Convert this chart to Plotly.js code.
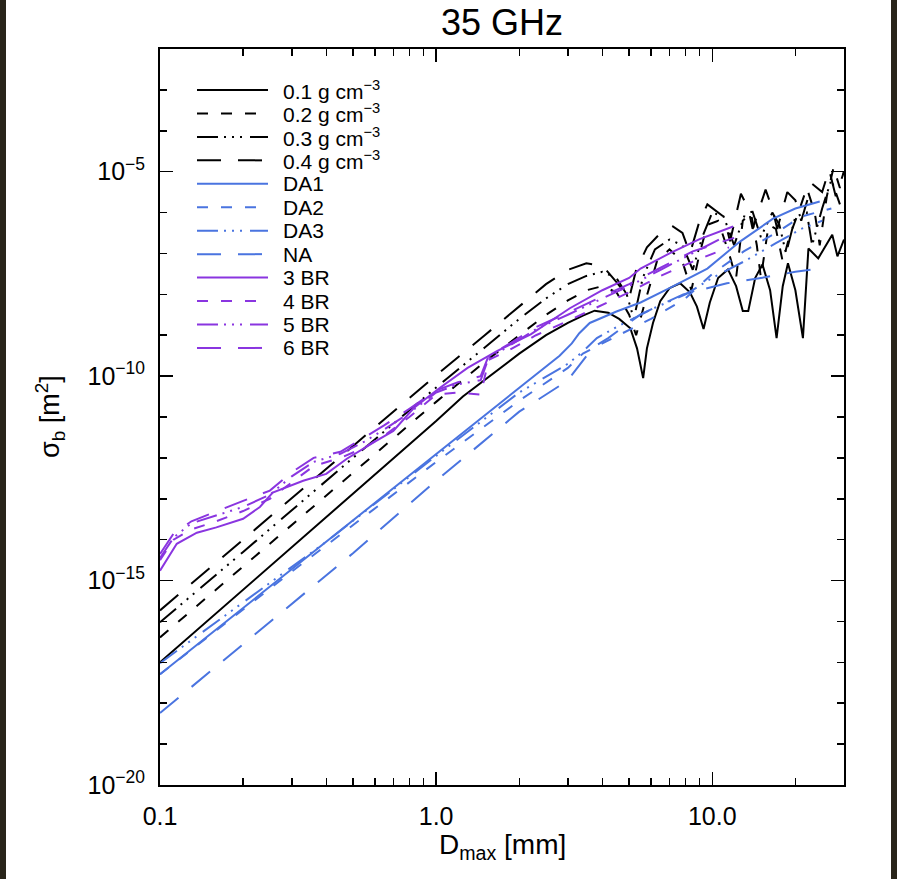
<!DOCTYPE html>
<html>
<head>
<meta charset="utf-8">
<script src="https://cdn.plot.ly/plotly-3.0.1.min.js"></script>
<style>
html,body{margin:0;padding:0;background:#29251a;width:897px;height:879px;overflow:hidden;}
#plot{position:absolute;left:6px;top:0;width:885px;height:879px;background:#fff;}
</style>
</head>
<body>
<div id="plot"></div>
<script>
// Diameters (mm) and log10 of backscatter cross-section (m^2)
const d01 = [0.1, 0.2, 0.5, 1.0, 1.25, 1.5, 1.75, 2.0, 2.5, 3.0, 3.4, 3.75, 4.2, 4.6, 5.05, 5.34, 5.62, 5.8, 6.1, 6.48, 7.0, 7.65, 8.3, 8.8, 9.3, 9.8, 10.5, 11.4, 12.2, 12.9, 13.5, 14.3, 15.2, 16.2, 17.1, 18.0, 18.8, 20.0, 21.3, 22.3, 24.2, 27.2, 28.4, 30.0];
const s01 = [-17.0, -15.23, -12.88, -11.1, -10.5, -10.1, -9.75, -9.45, -9.0, -8.7, -8.52, -8.4, -8.45, -8.6, -8.83, -9.32, -10.05, -9.32, -8.7, -8.17, -7.85, -7.73, -7.95, -8.3, -8.85, -8.2, -7.6, -7.39, -7.8, -8.41, -8.41, -7.6, -7.27, -7.9, -9.07, -7.8, -7.24, -7.9, -9.07, -6.88, -7.12, -6.54, -7.07, -6.66];

const d02 = [0.1, 0.2, 0.5, 1.0, 1.5, 2.0, 2.5, 3.0, 3.5, 4.0, 4.5, 5.0, 5.3, 5.7, 6.3, 7.0, 7.8, 8.4, 9.0, 9.6, 10.5, 11.5, 12.2, 12.9, 13.8, 14.5, 15.0, 16.0, 17.0, 18.0, 19.0, 20.5, 22.0, 23.5, 24.5, 26.0, 27.5, 29.0, 30.0];
const s02 = [-16.39, -14.65, -12.37, -10.63, -9.65, -9.0, -8.5, -8.15, -7.9, -7.8, -7.95, -8.5, -9.0, -8.2, -7.2, -6.9, -7.2, -7.9, -7.0, -6.3, -6.2, -7.0, -7.6, -6.2, -6.0, -6.8, -7.6, -6.3, -6.4, -7.2, -6.6, -6.0, -5.4, -6.0, -6.8, -5.6, -4.9, -5.4, -5.0];

const d03 = [0.1, 0.2, 0.5, 1.0, 1.5, 2.0, 2.5, 3.0, 3.5, 4.0, 4.5, 4.9, 5.2, 5.6, 6.2, 7.0, 7.8, 8.5, 9.2, 10.0, 11.0, 12.0, 13.2, 14.0, 15.0, 16.5, 17.5, 18.5, 20.0, 22.0, 23.0, 25.0, 27.0, 29.0];
const s03 = [-16.02, -14.3, -12.0, -10.28, -9.3, -8.6, -8.1, -7.75, -7.55, -7.45, -7.6, -8.0, -8.6, -7.6, -6.9, -6.66, -6.8, -7.4, -6.6, -6.0, -6.1, -6.8, -6.0, -5.98, -6.6, -6.0, -6.3, -7.0, -6.1, -6.0, -6.8, -5.9, -5.2, -5.8];

const d04 = [0.1, 0.2, 0.5, 1.0, 1.5, 2.0, 2.5, 3.0, 3.5, 4.0, 4.5, 5.0, 5.3, 5.8, 6.5, 7.2, 7.8, 8.3, 9.0, 9.6, 11.0, 11.6, 12.7, 13.5, 14.0, 15.6, 16.5, 17.2, 18.7, 20.0, 21.0, 23.0, 25.0, 26.5, 28.0, 30.0];
const s04 = [-15.73, -14.0, -11.72, -9.98, -9.0, -8.3, -7.75, -7.4, -7.24, -7.3, -7.7, -8.1, -7.4, -6.85, -6.5, -6.34, -6.5, -7.0, -6.2, -5.8, -6.1, -6.7, -5.54, -5.9, -6.4, -5.44, -5.9, -6.4, -5.5, -5.7, -6.2, -5.3, -5.5, -4.95, -5.6, -5.0];

const dDA1 = [0.1, 0.3, 1.0, 2.0, 2.8, 3.1, 3.3, 3.6, 4.5, 5.5, 7.0, 9.6, 12.6, 16.6, 20.0, 24.5];
const sDA1 = [-17.29, -14.72, -11.9, -10.28, -9.5, -9.2, -8.95, -8.7, -8.42, -8.2, -7.85, -7.37, -6.71, -6.15, -5.9, -5.73];

const dDA2 = [0.1, 0.3, 1.0, 2.0, 3.0, 3.4, 4.0, 6.0, 8.0, 10.0, 13.0, 17.0, 21.0, 27.0];
const sDA2 = [-17.29, -14.78, -12.1, -10.6, -9.8, -9.45, -9.2, -8.6, -8.1, -7.5, -6.95, -6.5, -6.1, -5.9];

const dDA3 = [0.1, 0.4, 1.0, 2.0, 3.0, 3.4, 3.82, 4.5, 6.0, 8.0, 10.0, 13.0, 17.0, 21.0, 25.0];
const sDA3 = [-17.02, -14.05, -11.95, -10.4, -9.7, -9.4, -9.07, -8.8, -8.37, -8.0, -7.6, -7.2, -6.75, -6.4, -6.2];

const dNA = [0.1, 0.5, 1.0, 2.0, 2.98, 3.34, 3.7, 4.2, 5.5, 7.85, 11.3, 15.0, 20.0, 24.5];
const sNA = [-18.24, -14.33, -12.56, -10.87, -10.12, -9.7, -9.3, -9.07, -8.49, -8.0, -7.73, -7.6, -7.45, -7.37];

const d3BR = [0.1, 0.115, 0.136, 0.16, 0.2, 0.23, 0.256, 0.33, 0.4, 0.475, 0.6, 0.7, 0.83, 1.03, 1.3, 1.66, 2.2, 3.05, 4.0, 5.0, 5.5, 7.0, 9.0, 11.9];
const s3BR = [-14.76, -14.1, -13.83, -13.7, -13.49, -13.2, -12.85, -12.56, -12.39, -12.02, -11.6, -11.34, -10.78, -10.29, -9.8, -9.39, -8.98, -8.34, -7.9, -7.6, -7.37, -7.0, -6.65, -6.34];

const d4BR = [0.1, 0.112, 0.13, 0.16, 0.2, 0.25, 0.3, 0.36, 0.45, 0.55, 0.65, 0.8, 1.0, 1.2, 1.45, 1.55, 1.8, 2.3, 3.0, 4.0, 5.0, 6.5, 8.5, 11.5];
const s4BR = [-14.5, -14.0, -13.75, -13.55, -13.3, -13.0, -12.6, -12.2, -12.0, -11.75, -11.45, -11.0, -10.45, -10.4, -10.45, -9.6, -9.4, -9.0, -8.65, -8.25, -7.95, -7.55, -7.2, -6.85];

const d5BR = [0.1, 0.112, 0.13, 0.16, 0.2, 0.25, 0.3, 0.36, 0.45, 0.55, 0.65, 0.8, 1.0, 1.2, 1.45, 1.55, 1.8, 2.3, 3.0, 4.0, 5.0, 6.5, 8.5, 11.0];
const s5BR = [-14.45, -13.95, -13.6, -13.4, -13.2, -12.9, -12.45, -12.1, -11.9, -11.6, -11.3, -10.9, -10.4, -10.2, -10.1, -9.55, -9.3, -8.85, -8.5, -8.1, -7.8, -7.4, -7.0, -6.6];

const d6BR = [0.1, 0.112, 0.13, 0.16, 0.2, 0.25, 0.3, 0.36, 0.45, 0.55, 0.65, 0.8, 1.0, 1.2, 1.45, 1.55, 1.8, 2.3, 3.0, 4.0, 5.0, 6.5, 8.5, 12.0];
const s6BR = [-14.35, -13.85, -13.55, -13.3, -13.05, -12.8, -12.35, -12.0, -11.85, -11.5, -11.2, -10.8, -10.35, -10.15, -10.0, -9.5, -9.25, -8.8, -8.45, -8.05, -7.75, -7.35, -6.95, -6.62];

const seriesNames = ['0.1 g cm<sup>−3</sup>', '0.2 g cm<sup>−3</sup>', '0.3 g cm<sup>−3</sup>', '0.4 g cm<sup>−3</sup>',
  'DA1', 'DA2', 'DA3', 'NA', '3 BR', '4 BR', '5 BR', '6 BR'];
const xTickVals = [0.1, 1, 10];
const xTickText = ['0.1', '1.0', '10.0'];
const yTickVals = [1e-20, 1e-15, 1e-10, 1e-5];
const yTickText = ['10<sup>−20</sup>', '10<sup>−15</sup>', '10<sup>−10</sup>', '10<sup>−5</sup>'];

// styles
const BLACK = '#000000', BLUE = '#4a74e0', PURPLE = '#8a35e0';
const SOLID = 'solid', DASH = '11px,13px', DDD = '21px,6px,2px,6px,2px,6px,2px,8px', LONG = '24px,17px';
const styles = [
  [BLACK, SOLID], [BLACK, DASH], [BLACK, DDD], [BLACK, LONG],
  [BLUE, SOLID], [BLUE, DASH], [BLUE, DDD], [BLUE, LONG],
  [PURPLE, SOLID], [PURPLE, DASH], [PURPLE, DDD], [PURPLE, LONG]
];
const xs = [d01, d02, d03, d04, dDA1, dDA2, dDA3, dNA, d3BR, d4BR, d5BR, d6BR];
const ys = [s01, s02, s03, s04, sDA1, sDA2, sDA3, sNA, s3BR, s4BR, s5BR, s6BR];

const traces = xs.map((x, i) => ({
  type: 'scatter', mode: 'lines', name: seriesNames[i],
  x: x, y: ys[i].map(v => Math.pow(10, v)),
  line: {color: styles[i][0], dash: styles[i][1], width: 2},
  showlegend: false, hoverinfo: 'skip'
}));

const FONT = 'Liberation Sans, Arial, sans-serif';
// manual legend (line samples + labels), in paper coordinates
const plotL = 160, plotR = 844, plotT = 49, plotB = 785;
const px2x = p => (p - plotL) / (plotR - plotL);
const py2y = p => (plotB - p) / (plotB - plotT);
const shapes = [], annotations = [];
seriesNames.forEach((n, i) => {
  const rowY = py2y(90 + i * 23.45);
  shapes.push({type: 'line', xref: 'paper', yref: 'paper', x0: px2x(197), x1: px2x(268), y0: rowY, y1: rowY,
    line: {color: styles[i][0], dash: styles[i][1], width: 2}});
  annotations.push({xref: 'paper', yref: 'paper', x: px2x(281), y: rowY, xanchor: 'left', yanchor: 'middle',
    text: n, showarrow: false, font: {family: FONT, size: 21, color: '#000'}});
});
annotations.push({xref: 'paper', yref: 'paper', x: 0.5, y: py2y(846), xanchor: 'center', yanchor: 'middle',
  text: 'D<sub>max</sub> [mm]', showarrow: false, font: {family: FONT, size: 28, color: '#000'}});
annotations.push({xref: 'paper', yref: 'paper', x: px2x(50), y: 0.5, xanchor: 'center', yanchor: 'middle', textangle: -90,
  text: 'σ<sub>b</sub> [m<sup>2</sup>]', showarrow: false, font: {family: FONT, size: 27, color: '#000'}});

const layout = {
  width: 885, height: 879,
  margin: {l: 154, r: 47, t: 49, b: 94},
  paper_bgcolor: '#ffffff', plot_bgcolor: '#ffffff',
  font: {family: FONT, color: '#000'},
  title: {text: '35 GHz', x: 0.5, xref: 'paper', xanchor: 'center', y: 1 - 22 / 879, yref: 'container', yanchor: 'middle',
    font: {size: 36, color: '#000'}},
  showlegend: false,
  xaxis: {type: 'log', range: [-1, Math.log10(30)], showgrid: false, zeroline: false,
    showline: true, linecolor: '#000', linewidth: 2, mirror: 'ticks',
    ticks: 'inside', ticklen: 13, tickwidth: 1.5, tickcolor: '#000',
    tickmode: 'array', tickvals: xTickVals, ticktext: xTickText, ticklabelstandoff: 8,
    tickfont: {size: 25, color: '#000'},
    minor: {tickmode: 'array', tickvals: [0.2,0.3,0.4,0.5,0.6,0.7,0.8,0.9,2,3,4,5,6,7,8,9,20,30], ticks: 'inside', ticklen: 7, tickwidth: 1.5, tickcolor: '#000', showgrid: false}
  },
  yaxis: {type: 'log', range: [-20, -2], showgrid: false, zeroline: false,
    showline: true, linecolor: '#000', linewidth: 2, mirror: 'ticks',
    ticks: 'inside', ticklen: 13, tickwidth: 1.5, tickcolor: '#000',
    tickmode: 'array', tickvals: yTickVals, ticktext: yTickText, ticklabelstandoff: 8,
    tickfont: {size: 25, color: '#000'},
    minor: {tickmode: 'array', tickvals: [1e-19,1e-18,1e-17,1e-16,1e-14,1e-13,1e-12,1e-11,1e-9,1e-8,1e-7,1e-6,1e-4,1e-3,1e-2], ticks: 'inside', ticklen: 7, tickwidth: 1.5, tickcolor: '#000', showgrid: false}
  },
  shapes: shapes,
  annotations: annotations
};

Plotly.newPlot('plot', traces, layout, {displayModeBar: false, staticPlot: true});
</script>
</body>
</html>
